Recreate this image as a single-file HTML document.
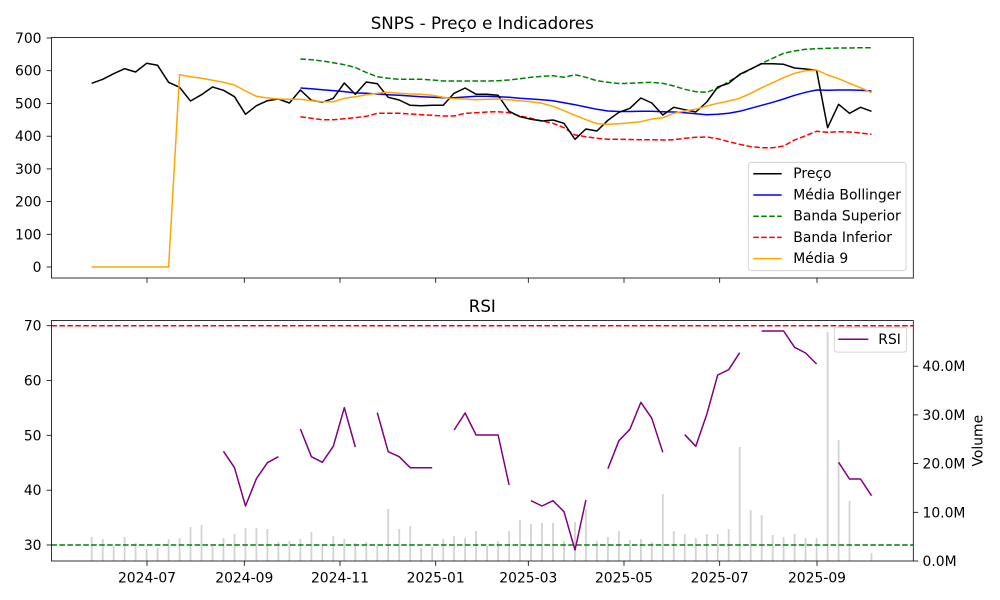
<!DOCTYPE html>
<html>
<head>
<meta charset="utf-8">
<style>
html,body{margin:0;padding:0;background:#fff;}
svg{display:block;}
text{font-family:"DejaVu Sans","Liberation Sans",sans-serif;fill:#000;}
</style>
</head>
<body>
<svg width="1000" height="600" viewBox="0 0 1000 600" xmlns="http://www.w3.org/2000/svg">
<rect x="0" y="0" width="1000" height="600" fill="#fff"/>
<defs>
<clipPath id="c1"><rect x="51.5" y="37.5" width="861.8" height="240.5"/></clipPath>
<clipPath id="c2"><rect x="51.5" y="320.5" width="861.8" height="240.5"/></clipPath>
</defs>

<text x="482.3" y="29.2" font-size="16.67" text-anchor="middle">SNPS - Preço e Indicadores</text>

<g clip-path="url(#c1)" fill="none" stroke-width="1.5" stroke-linejoin="round">
<polyline stroke="#008000" stroke-dasharray="5.55 2.4" points="300.4,59 311.4,59.7 322.3,61 333.3,62.7 344.3,64.7 355.3,67.5 366.3,72.5 377.3,76.7 388.2,78.3 399.2,79.3 410.2,79.3 421.2,79.3 432.2,80 443.2,81 454.1,81 465.1,81 476.1,81 487.1,81 498.1,80.7 509.1,80 520,78.7 531,77.3 542,76.3 553,75.7 564,77.3 575,74.7 585.9,77.3 596.9,80.7 607.9,82.3 618.9,83.5 629.9,83.3 640.9,82.7 651.8,82.3 662.8,83.3 673.8,86 684.8,89.3 695.8,91.7 706.8,92.3 717.7,88.3 728.7,81.7 739.7,75 750.7,69.3 761.7,63.3 772.7,58.3 783.6,53.3 794.6,51 805.6,49.3 816.6,48.7 827.6,48.3 838.6,48 849.5,48 860.5,47.7 871.5,47.7"/>
<polyline stroke="#ff0000" stroke-dasharray="5.55 2.4" points="300.4,116.7 311.4,118.3 322.3,119.7 333.3,119.7 344.3,118.7 355.3,117.7 366.3,116.3 377.3,113.3 388.2,113.3 399.2,113.3 410.2,114 421.2,114.7 432.2,115.3 443.2,116 454.1,116 465.1,113.3 476.1,112.7 487.1,112 498.1,111.7 509.1,112.7 520,116 531,118.3 542,121 553,123.3 564,127.7 575,135 585.9,136.7 596.9,138.3 607.9,139.3 618.9,139.3 629.9,139.5 640.9,139.7 651.8,139.7 662.8,140 673.8,139.7 684.8,138.3 695.8,137.3 706.8,137 717.7,138.7 728.7,141.7 739.7,144.3 750.7,146.7 761.7,147.7 772.7,147.7 783.6,146 794.6,140 805.6,135.7 816.6,131.3 827.6,132.3 838.6,131.7 849.5,132 860.5,133 871.5,134.3"/>
<polyline stroke="#0000ff" points="300.4,88 311.4,88.8 322.3,89.7 333.3,90.6 344.3,91.6 355.3,93 366.3,93.3 377.3,94 388.2,94.7 399.2,95.3 410.2,96 421.2,96.7 432.2,97.3 443.2,97.7 454.1,97.7 465.1,97 476.1,96.3 487.1,96.3 498.1,96.7 509.1,97.3 520,98.3 531,99 542,99.7 553,100.7 564,102.7 575,104.7 585.9,107 596.9,109.3 607.9,111 618.9,111.5 629.9,111.5 640.9,111.3 651.8,111.3 662.8,111.7 673.8,112 684.8,112.7 695.8,113.7 706.8,114.7 717.7,114.3 728.7,113.3 739.7,111.3 750.7,108.3 761.7,105.3 772.7,102.3 783.6,99 794.6,95.3 805.6,92.3 816.6,90 827.6,90.3 838.6,90 849.5,90 860.5,90.3 871.5,91"/>
<polyline stroke="#000000" points="91.7,83.3 102.7,79.3 113.7,73.7 124.6,68.7 135.6,72 146.6,63.3 157.6,65.3 168.6,82.3 179.6,87.3 190.5,101 201.5,94.7 212.5,87 223.5,90.3 234.5,96.7 245.5,114.3 256.4,105.7 267.4,100.7 278.4,99 289.4,103 300.4,90 311.4,100.3 322.3,102.3 333.3,98.3 344.3,83 355.3,94.3 366.3,82 377.3,83.7 388.2,97.3 399.2,100 410.2,105.3 421.2,105.7 432.2,105.3 443.2,105.3 454.1,93.3 465.1,88 476.1,94.3 487.1,94.3 498.1,95.3 509.1,111.3 520,116.7 531,119.3 542,121 553,120 564,123.3 575,139.3 585.9,129 596.9,131 607.9,120.3 618.9,112.3 629.9,108.3 640.9,98 651.8,103 662.8,115 673.8,107.3 684.8,109.7 695.8,112 706.8,102 717.7,87 728.7,83.3 739.7,74.3 750.7,69 761.7,63.7 772.7,63.7 783.6,64.3 794.6,68 805.6,69 816.6,70.3 827.6,127.7 838.6,104.3 849.5,113.3 860.5,107.3 871.5,111.3"/>
<polyline stroke="#ffa500" points="91.7,267 102.7,267 113.7,267 124.6,267 135.6,267 146.6,267 157.6,267 168.6,267 179.6,74.7 190.5,76.7 201.5,78.3 212.5,80.3 223.5,82.3 234.5,85 245.5,91 256.4,96.3 267.4,98 278.4,99 289.4,99.3 300.4,99.3 311.4,100.7 322.3,101.7 333.3,101.7 344.3,98.3 355.3,96.7 366.3,94.7 377.3,93.2 388.2,92.3 399.2,93.3 410.2,94 421.2,94.3 432.2,95.3 443.2,97.3 454.1,98.7 465.1,99 476.1,99.7 487.1,99.3 498.1,99 509.1,99.7 520,100.7 531,101.7 542,103.3 553,106.3 564,110.7 575,115.3 585.9,119.7 596.9,123.7 607.9,124.3 618.9,123.7 629.9,122.8 640.9,121.7 651.8,119 662.8,117.7 673.8,113.3 684.8,111 695.8,109.3 706.8,106 717.7,103.3 728.7,101 739.7,98.3 750.7,93.3 761.7,87.7 772.7,82.7 783.6,77.7 794.6,73.3 805.6,70.7 816.6,70 827.6,75 838.6,78.7 849.5,83.3 860.5,87.7 871.5,92.7"/>
</g>

<rect x="51.5" y="37.5" width="861.8" height="240.5" fill="none" stroke="#000" stroke-width="0.8"/>
<g stroke="#000" stroke-width="0.8">
<line x1="46.6" y1="38" x2="51.5" y2="38"/>
<line x1="46.6" y1="70.7" x2="51.5" y2="70.7"/>
<line x1="46.6" y1="103.4" x2="51.5" y2="103.4"/>
<line x1="46.6" y1="136.2" x2="51.5" y2="136.2"/>
<line x1="46.6" y1="168.9" x2="51.5" y2="168.9"/>
<line x1="46.6" y1="201.6" x2="51.5" y2="201.6"/>
<line x1="46.6" y1="234.3" x2="51.5" y2="234.3"/>
<line x1="46.6" y1="267" x2="51.5" y2="267"/>
<line x1="147" y1="278" x2="147" y2="282.9"/>
<line x1="244.3" y1="278" x2="244.3" y2="282.9"/>
<line x1="340" y1="278" x2="340" y2="282.9"/>
<line x1="435.7" y1="278" x2="435.7" y2="282.9"/>
<line x1="528.3" y1="278" x2="528.3" y2="282.9"/>
<line x1="624" y1="278" x2="624" y2="282.9"/>
<line x1="719.7" y1="278" x2="719.7" y2="282.9"/>
<line x1="817" y1="278" x2="817" y2="282.9"/>
</g>
<g font-size="13.9" text-anchor="end">
<text x="41.5" y="43">700</text>
<text x="41.5" y="75.7">600</text>
<text x="41.5" y="108.4">500</text>
<text x="41.5" y="141.2">400</text>
<text x="41.5" y="173.9">300</text>
<text x="41.5" y="206.6">200</text>
<text x="41.5" y="239.3">100</text>
<text x="41.5" y="272">0</text>
</g>

<rect x="748.3" y="162.3" width="157.7" height="108.4" rx="2.8" ry="2.8" fill="#fff" fill-opacity="0.8" stroke="#cccccc" stroke-width="0.8"/>
<g stroke-width="1.5" fill="none">
<line x1="753.3" y1="173.7" x2="781.7" y2="173.7" stroke="#000"/>
<line x1="753.3" y1="195" x2="781.7" y2="195" stroke="#0000ff"/>
<line x1="753.3" y1="216.3" x2="781.7" y2="216.3" stroke="#008000" stroke-dasharray="5.55 2.4"/>
<line x1="753.3" y1="237.4" x2="781.7" y2="237.4" stroke="#ff0000" stroke-dasharray="5.55 2.4"/>
<line x1="753.3" y1="258.6" x2="781.7" y2="258.6" stroke="#ffa500"/>
</g>
<g font-size="13.9">
<text x="793.3" y="178.1">Preço</text>
<text x="793.3" y="199.4">Média Bollinger</text>
<text x="793.3" y="220.7">Banda Superior</text>
<text x="793.3" y="241.8">Banda Inferior</text>
<text x="793.3" y="263">Média 9</text>
</g>

<text x="482.3" y="311.8" font-size="16.67" text-anchor="middle">RSI</text>

<g clip-path="url(#c2)">
<g fill="#d3d3d3">
<rect x="90.8" y="537" width="1.8" height="24"/>
<rect x="101.8" y="539" width="1.8" height="22"/>
<rect x="112.8" y="545.7" width="1.8" height="15.3"/>
<rect x="123.7" y="537" width="1.8" height="24"/>
<rect x="134.7" y="543" width="1.8" height="18"/>
<rect x="145.7" y="549" width="1.8" height="12"/>
<rect x="156.7" y="548" width="1.8" height="13"/>
<rect x="167.7" y="539" width="1.8" height="22"/>
<rect x="178.7" y="538" width="1.8" height="23"/>
<rect x="189.6" y="527" width="1.8" height="34"/>
<rect x="200.6" y="525" width="1.8" height="36"/>
<rect x="211.6" y="546" width="1.8" height="15"/>
<rect x="222.6" y="538" width="1.8" height="23"/>
<rect x="233.6" y="534" width="1.8" height="27"/>
<rect x="244.6" y="528" width="1.8" height="33"/>
<rect x="255.5" y="528" width="1.8" height="33"/>
<rect x="266.5" y="529" width="1.8" height="32"/>
<rect x="277.5" y="542" width="1.8" height="19"/>
<rect x="288.5" y="541" width="1.8" height="20"/>
<rect x="299.5" y="539" width="1.8" height="22"/>
<rect x="310.5" y="532" width="1.8" height="29"/>
<rect x="321.4" y="546" width="1.8" height="15"/>
<rect x="332.4" y="536" width="1.8" height="25"/>
<rect x="343.4" y="539" width="1.8" height="22"/>
<rect x="354.4" y="543" width="1.8" height="18"/>
<rect x="365.4" y="542" width="1.8" height="19"/>
<rect x="376.4" y="546" width="1.8" height="15"/>
<rect x="387.3" y="509" width="1.8" height="52"/>
<rect x="398.3" y="529" width="1.8" height="32"/>
<rect x="409.3" y="526" width="1.8" height="35"/>
<rect x="420.3" y="548" width="1.8" height="13"/>
<rect x="431.3" y="547" width="1.8" height="14"/>
<rect x="442.3" y="539" width="1.8" height="22"/>
<rect x="453.2" y="536" width="1.8" height="25"/>
<rect x="464.2" y="538" width="1.8" height="23"/>
<rect x="475.2" y="531" width="1.8" height="30"/>
<rect x="486.2" y="546" width="1.8" height="15"/>
<rect x="497.2" y="541" width="1.8" height="20"/>
<rect x="508.2" y="531" width="1.8" height="30"/>
<rect x="519.1" y="520" width="1.8" height="41"/>
<rect x="530.1" y="524" width="1.8" height="37"/>
<rect x="541.1" y="523" width="1.8" height="38"/>
<rect x="552.1" y="523" width="1.8" height="38"/>
<rect x="563.1" y="541" width="1.8" height="20"/>
<rect x="574.1" y="522" width="1.8" height="39"/>
<rect x="585" y="509" width="1.8" height="52"/>
<rect x="596" y="541" width="1.8" height="20"/>
<rect x="607" y="537" width="1.8" height="24"/>
<rect x="618" y="531" width="1.8" height="30"/>
<rect x="629" y="540" width="1.8" height="21"/>
<rect x="640" y="539" width="1.8" height="22"/>
<rect x="650.9" y="542" width="1.8" height="19"/>
<rect x="661.9" y="494" width="1.8" height="67"/>
<rect x="672.9" y="531" width="1.8" height="30"/>
<rect x="683.9" y="534" width="1.8" height="27"/>
<rect x="694.9" y="538" width="1.8" height="23"/>
<rect x="705.9" y="534" width="1.8" height="27"/>
<rect x="716.8" y="534" width="1.8" height="27"/>
<rect x="727.8" y="529" width="1.8" height="32"/>
<rect x="738.8" y="447" width="1.8" height="114"/>
<rect x="749.8" y="510" width="1.8" height="51"/>
<rect x="760.8" y="515" width="1.8" height="46"/>
<rect x="771.8" y="535" width="1.8" height="26"/>
<rect x="782.7" y="537" width="1.8" height="24"/>
<rect x="793.7" y="534" width="1.8" height="27"/>
<rect x="804.7" y="538" width="1.8" height="23"/>
<rect x="815.7" y="538" width="1.8" height="23"/>
<rect x="826.7" y="332" width="1.8" height="229"/>
<rect x="837.7" y="440" width="1.8" height="121"/>
<rect x="848.6" y="501" width="1.8" height="60"/>
<rect x="870.6" y="553" width="1.8" height="8"/>
</g>
<line x1="51.5" y1="325.7" x2="913.3" y2="325.7" stroke="#ff0000" stroke-width="1.5" stroke-dasharray="5.55 2.4"/>
<line x1="51.5" y1="545" x2="913.3" y2="545" stroke="#008000" stroke-width="1.5" stroke-dasharray="5.55 2.4"/>
<g fill="none" stroke="#800080" stroke-width="1.5" stroke-linejoin="round">
<polyline points="223.5,451.3 234.5,467.7 245.5,506 256.4,478.7 267.4,462.7 278.4,456.7"/>
<polyline points="300.4,429 311.4,456.7 322.3,462.3 333.3,446.3 344.3,407.7 355.3,447"/>
<polyline points="377.3,412.7 388.2,451.7 399.2,456.7 410.2,467.7 421.2,467.7 432.2,467.7"/>
<polyline points="454.1,430 465.1,413 476.1,435 487.1,435 498.1,435 509.1,485"/>
<polyline points="531,500.7 542,506 553,500.7 564,511.7 575,550 585.9,500"/>
<polyline points="607.9,468.7 618.9,440.7 629.9,429.3 640.9,402.3 651.8,418.3 662.8,452.3"/>
<polyline points="684.8,434.7 695.8,446.3 706.8,414.3 717.7,375 728.7,369.7 739.7,352.7"/>
<polyline points="761.7,331 772.7,331 783.6,331 794.6,347.3 805.6,353 816.6,364"/>
<polyline points="838.6,462.3 849.5,479 860.5,479 871.5,495.7"/>
</g>
</g>

<rect x="51.5" y="320.5" width="861.8" height="240.5" fill="none" stroke="#000" stroke-width="0.8"/>
<g stroke="#000" stroke-width="0.8">
<line x1="46.6" y1="325.7" x2="51.5" y2="325.7"/>
<line x1="46.6" y1="380.5" x2="51.5" y2="380.5"/>
<line x1="46.6" y1="435.3" x2="51.5" y2="435.3"/>
<line x1="46.6" y1="490.2" x2="51.5" y2="490.2"/>
<line x1="46.6" y1="545" x2="51.5" y2="545"/>
<line x1="913.3" y1="561" x2="918.2" y2="561"/>
<line x1="913.3" y1="512.3" x2="918.2" y2="512.3"/>
<line x1="913.3" y1="463.6" x2="918.2" y2="463.6"/>
<line x1="913.3" y1="414.9" x2="918.2" y2="414.9"/>
<line x1="913.3" y1="366.2" x2="918.2" y2="366.2"/>
<line x1="147" y1="561" x2="147" y2="565.9"/>
<line x1="244.3" y1="561" x2="244.3" y2="565.9"/>
<line x1="340" y1="561" x2="340" y2="565.9"/>
<line x1="435.7" y1="561" x2="435.7" y2="565.9"/>
<line x1="528.3" y1="561" x2="528.3" y2="565.9"/>
<line x1="624" y1="561" x2="624" y2="565.9"/>
<line x1="719.7" y1="561" x2="719.7" y2="565.9"/>
<line x1="817" y1="561" x2="817" y2="565.9"/>
</g>
<g font-size="13.9" text-anchor="end">
<text x="41.5" y="330.7">70</text>
<text x="41.5" y="385.5">60</text>
<text x="41.5" y="440.3">50</text>
<text x="41.5" y="495.2">40</text>
<text x="41.5" y="550">30</text>
</g>
<g font-size="13.9" text-anchor="start">
<text x="922.5" y="566">0.0M</text>
<text x="922.5" y="517.3">10.0M</text>
<text x="922.5" y="468.6">20.0M</text>
<text x="922.5" y="419.9">30.0M</text>
<text x="922.5" y="371.2">40.0M</text>
</g>
<text x="982.5" y="440.7" font-size="13.9" text-anchor="middle" transform="rotate(-90 982.5 440.7)">Volume</text>
<g font-size="13.9" text-anchor="middle">
<text x="147" y="582.7">2024-07</text>
<text x="244.3" y="582.7">2024-09</text>
<text x="340" y="582.7">2024-11</text>
<text x="435.7" y="582.7">2025-01</text>
<text x="528.3" y="582.7">2025-03</text>
<text x="624" y="582.7">2025-05</text>
<text x="719.7" y="582.7">2025-07</text>
<text x="817" y="582.7">2025-09</text>
</g>

<rect x="834.3" y="327.3" width="72.4" height="24.8" rx="2.8" ry="2.8" fill="#fff" fill-opacity="0.8" stroke="#cccccc" stroke-width="0.8"/>
<line x1="838.3" y1="339.3" x2="868.3" y2="339.3" stroke="#800080" stroke-width="1.5"/>
<text x="878.3" y="344.2" font-size="13.9">RSI</text>
</svg>
</body>
</html>
